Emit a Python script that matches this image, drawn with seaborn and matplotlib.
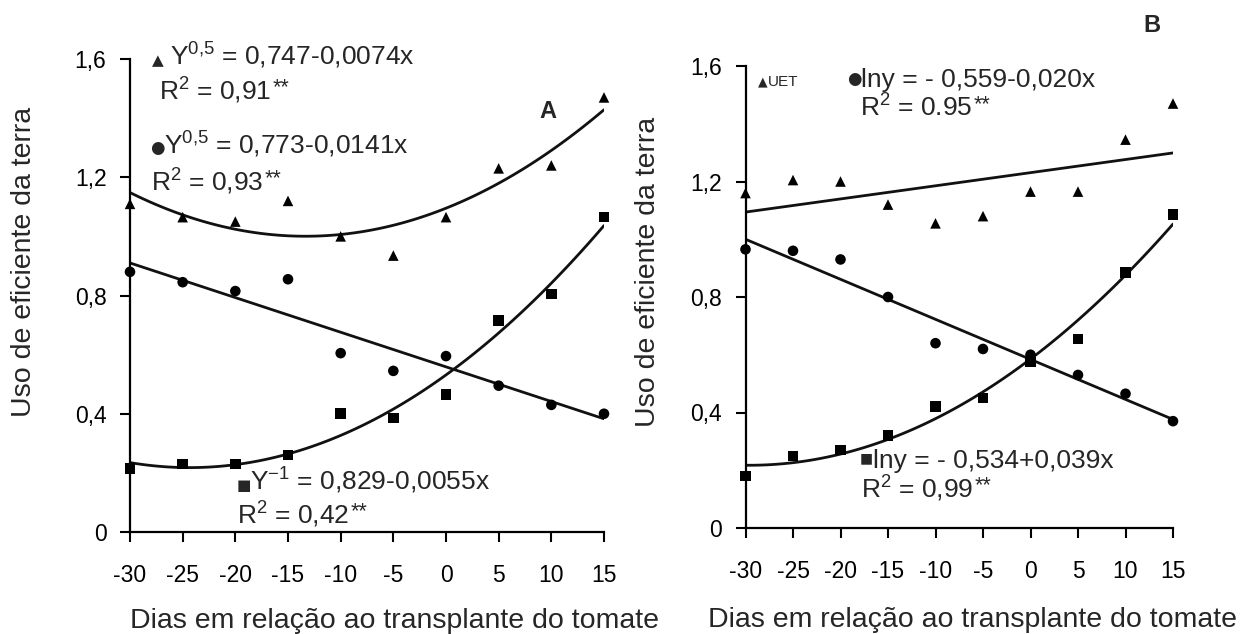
import numpy as np
import pandas as pd
import matplotlib
matplotlib.use("Agg")
import matplotlib.pyplot as plt
import seaborn as sns

# ---- data -------------------------------------------------------------
dias = [-30, -25, -20, -15, -10, -5, 0, 5, 10, 15]

# Panel A
a_uet = [1.11, 1.065, 1.05, 1.12, 1.00, 0.935, 1.065, 1.23, 1.24, 1.47]
a_circ = [0.88, 0.845, 0.815, 0.855, 0.605, 0.545, 0.595, 0.495, 0.43, 0.40]
a_quad = [0.215, 0.23, 0.23, 0.26, 0.40, 0.385, 0.465, 0.715, 0.805, 1.065]

# Panel B
b_uet = [1.16, 1.205, 1.20, 1.12, 1.055, 1.08, 1.165, 1.165, 1.345, 1.47]
b_circ = [0.965, 0.96, 0.93, 0.80, 0.64, 0.62, 0.60, 0.53, 0.465, 0.37]
b_quad = [0.18, 0.25, 0.27, 0.32, 0.42, 0.45, 0.575, 0.655, 0.885, 1.085]

yticks = [0, 0.4, 0.8, 1.2, 1.6]
ytick_labels = ["0", "0,4", "0,8", "1,2", "1,6"]
xticks = [-30, -25, -20, -15, -10, -5, 0, 5, 10, 15]

ylabel = "Uso de eficiente da terra"
xlabel = "Dias em relação ao transplante do tomate"

# ---- style ------------------------------------------------------------
sns.set_style("ticks")
plt.rcParams["font.family"] = ["Liberation Sans", "DejaVu Sans"]
plt.rcParams["mathtext.fontset"] = "custom"
plt.rcParams["mathtext.rm"] = "Liberation Sans"
plt.rcParams["mathtext.it"] = "Liberation Sans"
plt.rcParams["mathtext.bf"] = "Liberation Sans:bold"
plt.rcParams["mathtext.default"] = "regular"

W, H = 1247, 634
fig = plt.figure(figsize=(W / 100, H / 100), dpi=100)
fig.patch.set_facecolor("white")


def px(x, y):
    return x / W, 1 - y / H


def frame(x0, x1, y_top, y_bot):
    return [x0 / W, 1 - y_bot / H, (x1 - x0) / W, (y_bot - y_top) / H]


ax_a = fig.add_axes(frame(130, 604, 59, 532))
ax_b = fig.add_axes(frame(745.5, 1173, 66, 528))

markers = {"uet": "^", "circ": "o", "quad": "s"}
panels = [
    (ax_a, {"uet": a_uet, "circ": a_circ, "quad": a_quad}, {"uet": 2, "circ": 1, "quad": 2}),
    (ax_b, {"uet": b_uet, "circ": b_circ, "quad": b_quad}, {"uet": 1, "circ": 1, "quad": 2}),
]

for ax, series, orders in panels:
    df = pd.concat(
        [pd.DataFrame({"dia": dias, "valor": v, "serie": k}) for k, v in series.items()],
        ignore_index=True,
    )
    for k in series:
        sub = df[df["serie"] == k]
        sns.regplot(data=sub, x="dia", y="valor", order=orders[k], ci=None,
                    scatter=False, truncate=True, ax=ax,
                    line_kws=dict(color="#111111", lw=2.0))
    sns.scatterplot(data=df, x="dia", y="valor", style="serie", markers=markers,
                    color="black", s=58, edgecolor="none", legend=False, ax=ax,
                    clip_on=False, zorder=5)

    ax.set_xlim(-30, 15)
    ax.set_ylim(0, 1.6)
    ax.set_xticks(xticks)
    ax.set_xticklabels([str(t) for t in xticks])
    ax.set_yticks(yticks)
    ax.set_yticklabels(ytick_labels)
    ax.set_xlabel("")
    ax.set_ylabel("")
    for side in ("top", "right"):
        ax.spines[side].set_visible(False)
    for side in ("left", "bottom"):
        ax.spines[side].set_linewidth(1.6)
        ax.spines[side].set_color("black")
    ax.tick_params(axis="both", direction="out", length=7, width=1.5,
                   colors="black", labelsize=16.5)
    ax.tick_params(axis="x", pad=16)
    ax.tick_params(axis="y", pad=10)
    ax.set_facecolor("white")

# ---- axis titles --------------------------------------------------------
fig.text(*px(394, 628), xlabel, ha="center", va="baseline", fontsize=20.5)
fig.text(*px(972, 627), xlabel, ha="center", va="baseline", fontsize=20.5)
fig.text(*px(24, 262), ylabel, ha="center", va="center", rotation=90, fontsize=20.5)
fig.text(*px(648, 272), ylabel, ha="center", va="center", rotation=90, fontsize=20.5)

# ---- equation helpers ----------------------------------------------------
eq = 19
renderer = fig.canvas.get_renderer()


def r2_text(x, y, value):
    """R² line followed by a raised double asterisk."""
    t = fig.text(*px(x, y), r"R$^{2}$ = " + value, ha="left", va="baseline", fontsize=eq)
    bb = t.get_window_extent(renderer=renderer)
    fig.text(bb.x1 / W + 1 / W, 1 - (y - 7) / H, "**", ha="left", va="baseline",
             fontsize=eq * 0.82)


# ---- equations, panel A --------------------------------------------------
fig.text(*px(158, 61), "▲", ha="center", va="center", fontsize=11,
         family=["DejaVu Sans"])
fig.text(*px(170, 65), r"Y$^{0{,}5}$ = 0,747-0,0074x", ha="left", va="baseline", fontsize=eq)
r2_text(159, 100, "0,91")

fig.text(*px(157, 148), "●", ha="center", va="center", fontsize=12,
         family=["DejaVu Sans"])
fig.text(*px(164, 154), r"Y$^{0{,}5}$ = 0,773-0,0141x", ha="left", va="baseline", fontsize=eq)
r2_text(151, 191, "0,93")

fig.text(*px(244, 485), "■", ha="center", va="center", fontsize=11,
         family=["DejaVu Sans"])
fig.text(*px(250, 490), r"Y$^{-1}$ = 0,829-0,0055x", ha="left", va="baseline", fontsize=eq)
r2_text(237, 524, "0,42")

fig.text(*px(548, 112), "A", ha="center", va="center", fontsize=17, fontweight="bold")

# ---- equations, panel B --------------------------------------------------
fig.text(*px(763, 82), "▲", ha="center", va="center", fontsize=9,
         family=["DejaVu Sans"])
fig.text(*px(768, 86), "UET", ha="left", va="baseline", fontsize=11)

fig.text(*px(854, 79), "●", ha="center", va="center", fontsize=12,
         family=["DejaVu Sans"])
fig.text(*px(861, 87), "lny = - 0,559-0,020x", ha="left", va="baseline", fontsize=eq)
r2_text(860, 117, "0.95")

fig.text(*px(866, 458), "■", ha="center", va="center", fontsize=10,
         family=["DejaVu Sans"])
fig.text(*px(873, 468), "lny = - 0,534+0,039x", ha="left", va="baseline", fontsize=eq)
r2_text(861, 498, "0,99")

fig.text(*px(1152, 25), "B", ha="center", va="center", fontsize=17, fontweight="bold")

fig.savefig("out.png", dpi=100, facecolor="white")
